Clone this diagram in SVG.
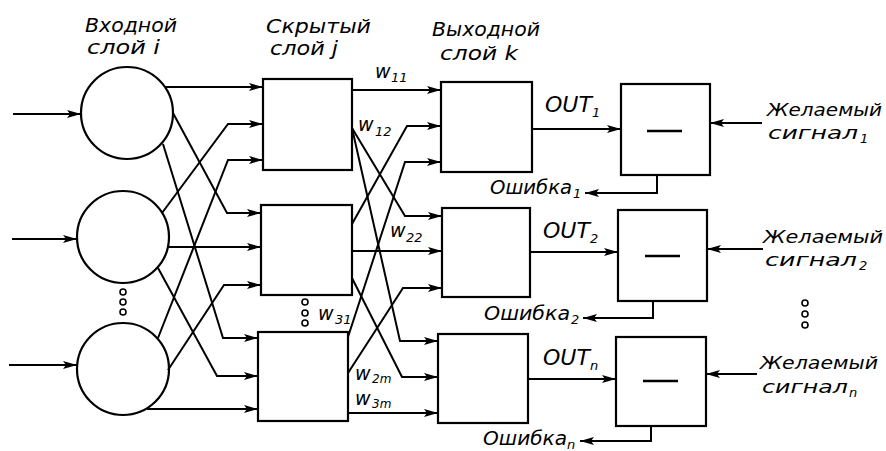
<svg xmlns="http://www.w3.org/2000/svg" width="886" height="451" viewBox="0 0 886 451">
<style>
.n{fill:none;stroke:#000;stroke-width:2.2}
.c{fill:none;stroke:#000;stroke-width:2}
.d{fill:none;stroke:#000;stroke-width:1.6}
.m{stroke:#000;stroke-width:2.6}
.t{font-family:"DejaVu Sans",sans-serif;font-style:italic;font-size:20px;fill:#000}
.g{font-family:"DejaVu Sans",sans-serif;font-style:italic;font-size:18px;fill:#000}
.o{font-family:"DejaVu Sans",sans-serif;font-style:italic;font-size:21px;fill:#000}
.w{font-family:"DejaVu Sans",sans-serif;font-style:italic;font-size:19px;fill:#000}
.s{font-family:"DejaVu Sans",sans-serif;font-style:italic;font-size:13px;fill:#000}
.ss{font-family:"DejaVu Sans",sans-serif;font-style:italic;font-size:12px;fill:#000}
</style>
<defs>
<marker id="a" viewBox="0 0 14 8" refX="14" refY="4" markerWidth="14" markerHeight="8" markerUnits="userSpaceOnUse" orient="auto">
<path d="M0,0 L14,4 L0,8 L3,4 Z" fill="#000"/>
</marker>
</defs>
<rect width="886" height="451" fill="#fff"/>

<g id="headers">
<text class="t" x="85" y="32" textLength="92" lengthAdjust="spacingAndGlyphs">Входной</text>
<text class="t" x="87" y="54" textLength="73" lengthAdjust="spacingAndGlyphs">слой i</text>
<text class="t" x="266" y="33" textLength="105" lengthAdjust="spacingAndGlyphs">Скрытый</text>
<text class="t" x="270" y="55" textLength="68" lengthAdjust="spacingAndGlyphs">слой j</text>
<text class="t" x="432" y="36" textLength="108" lengthAdjust="spacingAndGlyphs">Выходной</text>
<text class="t" x="440" y="60" textLength="78" lengthAdjust="spacingAndGlyphs">слой k</text>
</g>

<g id="in1"><circle class="n" cx="127" cy="113" r="46"/></g>
<g id="in2"><circle class="n" cx="123" cy="237" r="46"/></g>
<g id="in3"><circle class="n" cx="123" cy="369" r="46"/></g>
<g id="in-dots">
<circle class="d" cx="123" cy="292" r="3"/><circle class="d" cx="123" cy="302" r="3"/><circle class="d" cx="123" cy="312" r="3"/>
</g>

<g id="hid1"><rect class="n" x="263" y="79" width="89" height="91"/></g>
<g id="hid2"><rect class="n" x="261" y="205" width="91" height="90"/></g>
<g id="hid3"><rect class="n" x="258" y="332" width="90" height="89"/></g>
<g id="hid-dots">
<circle class="d" cx="305" cy="302" r="3"/><circle class="d" cx="305" cy="313" r="3"/><circle class="d" cx="305" cy="323" r="3"/>
</g>

<g id="out1"><rect class="n" x="441" y="82" width="91" height="90"/></g>
<g id="out2"><rect class="n" x="442" y="208" width="88" height="89"/></g>
<g id="out3"><rect class="n" x="438" y="334" width="90" height="89"/></g>

<g id="sub1"><rect class="n" x="621" y="84" width="89" height="91"/><line class="m" x1="647" y1="131" x2="682" y2="131"/></g>
<g id="sub2"><rect class="n" x="618" y="210" width="89" height="91"/><line class="m" x1="645" y1="256" x2="680" y2="256"/></g>
<g id="sub3"><rect class="n" x="616" y="337" width="90" height="89"/><line class="m" x1="643" y1="381" x2="678" y2="381"/></g>

<g id="connectors" class="c" marker-end="url(#a)">
<path d="M13,114 H81"/>
<path d="M12,239 H77"/>
<path d="M9,365 H77"/>
<path d="M165,87 H263"/>
<path d="M162,213 L228,124 H263"/>
<path d="M158,338 L228,160 H263"/>
<path d="M173,113 L227,213 H261"/>
<path d="M168,247 H261"/>
<path d="M168,370 L224,285 H261"/>
<path d="M163,144 L223,338 H258"/>
<path d="M158,268 L217,376 H258"/>
<path d="M147,409 H258"/>
<path d="M352,90 H441"/>
<path d="M352,224 L407,126 H441"/>
<path d="M348,337 L405,162 H441"/>
<path d="M352,128 L405,216 H442"/>
<path d="M352,251 H442"/>
<path d="M348,373 L403,288 H442"/>
<path d="M352,128 L400,341 H438"/>
<path d="M352,278 L402,377 H438"/>
<path d="M348,413 H438"/>
<path d="M532,129 H621"/>
<path d="M530,252 H618"/>
<path d="M528,379 H616"/>
<path d="M762,123 H710"/>
<path d="M763,249 H707"/>
<path d="M757,374 H706"/>
<path d="M657,175 V193 H585"/>
<path d="M653,301 V318 H583"/>
<path d="M651,426 V441 H580"/>
</g>

<g id="weights">
<text class="w" x="375" y="78">w</text><text class="s" x="391" y="82">11</text>
<text class="w" x="358" y="131">w</text><text class="s" x="375" y="136">12</text>
<text class="w" x="390" y="237">w</text><text class="s" x="406" y="242">22</text>
<text class="w" x="318" y="320">w</text><text class="s" x="335" y="324">31</text>
<text class="w" x="355" y="380">w</text><text class="ss" x="372" y="383">2m</text>
<text class="w" x="355" y="405">w</text><text class="ss" x="372" y="408">3m</text>
</g>

<g id="out-labels">
<text class="o" x="545" y="112" textLength="47" lengthAdjust="spacingAndGlyphs">OUT</text><text class="s" x="592" y="117">1</text>
<text class="o" x="543" y="238" textLength="47" lengthAdjust="spacingAndGlyphs">OUT</text><text class="s" x="590" y="243">2</text>
<text class="o" x="543" y="365" textLength="47" lengthAdjust="spacingAndGlyphs">OUT</text><text class="s" x="590" y="370">n</text>
</g>

<g id="err-labels">
<text class="t" x="490" y="194" textLength="82" lengthAdjust="spacingAndGlyphs">Ошибка</text><text class="s" x="573" y="198">1</text>
<text class="t" x="484" y="320" textLength="86" lengthAdjust="spacingAndGlyphs">Ошибка</text><text class="s" x="571" y="324">2</text>
<text class="t" x="483" y="445" textLength="84" lengthAdjust="spacingAndGlyphs">Ошибка</text><text class="s" x="567" y="449">n</text>
</g>

<g id="desired-labels">
<text class="g" x="767" y="116" textLength="115" lengthAdjust="spacingAndGlyphs">Желаемый</text>
<text class="g" x="768" y="139" textLength="90" lengthAdjust="spacingAndGlyphs">сигнал</text><text class="s" x="860" y="143">1</text>
<text class="g" x="763" y="243" textLength="120" lengthAdjust="spacingAndGlyphs">Желаемый</text>
<text class="g" x="765" y="266" textLength="92" lengthAdjust="spacingAndGlyphs">сигнал</text><text class="s" x="859" y="270">2</text>
<text class="g" x="760" y="369" textLength="118" lengthAdjust="spacingAndGlyphs">Желаемый</text>
<text class="g" x="762" y="393" textLength="86" lengthAdjust="spacingAndGlyphs">сигнал</text><text class="s" x="849" y="397">n</text>
<circle class="d" cx="805" cy="303" r="3"/><circle class="d" cx="805" cy="314" r="3"/><circle class="d" cx="805" cy="325" r="3"/>
</g>
</svg>
